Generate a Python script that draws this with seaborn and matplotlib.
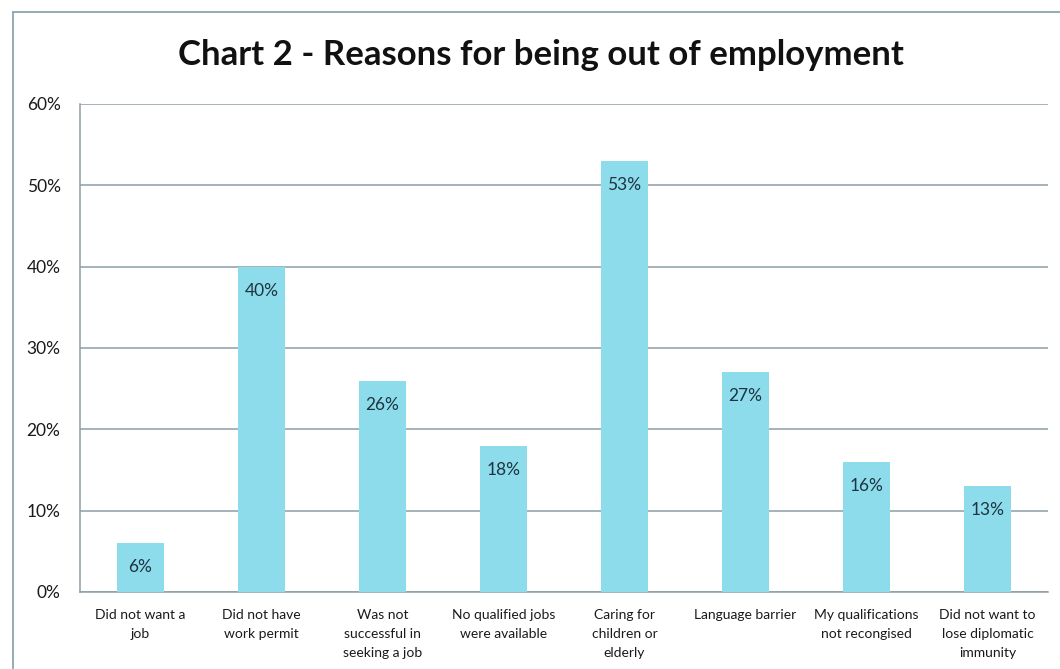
import matplotlib
matplotlib.use("Agg")
import matplotlib.pyplot as plt
import seaborn as sns
import pandas as pd
from matplotlib.lines import Line2D
from matplotlib.ticker import MultipleLocator, FuncFormatter

categories = [
    "Did not want a\njob",
    "Did not have\nwork permit",
    "Was not\nsuccessful in\nseeking a job",
    "No qualified jobs\nwere available",
    "Caring for\nchildren or\nelderly",
    "Language barrier",
    "My qualifications\nnot recongised",
    "Did not want to\nlose diplomatic\nimmunity",
]
values = [6, 40, 26, 18, 53, 27, 16, 13]
title = "Chart 2 - Reasons for being out of employment"

bar_color = "#8ddcec"
grid_color = "#8d9ea6"
text_color = "#1a1a1a"
label_color = "#1e3440"

sns.set_theme(style="white")
plt.rcParams["font.family"] = ["Lato", "DejaVu Sans"]

fig = plt.figure(figsize=(10.6, 6.69), dpi=100)
ax = fig.add_axes([80 / 1060, 1 - 592 / 669, (1048 - 80) / 1060, (592 - 104) / 669])

df = pd.DataFrame({"reason": categories, "share": values})
sns.barplot(data=df, x="reason", y="share", color=bar_color, saturation=1,
            width=0.39, linewidth=0, ax=ax, zorder=3)

ax.set_ylim(0, 60)
ax.set_xlim(-0.5, len(categories) - 0.5)
ax.yaxis.set_major_locator(MultipleLocator(10))
ax.yaxis.set_major_formatter(FuncFormatter(lambda v, _: f"{v:.0f}%"))
ax.grid(axis="y", color=grid_color, linewidth=1.1, zorder=0)
ax.set_axisbelow(True)
ax.set_xlabel("")
ax.set_ylabel("")

for side in ["top", "right"]:
    ax.spines[side].set_visible(False)
for side in ["left", "bottom"]:
    ax.spines[side].set_color(grid_color)
    ax.spines[side].set_linewidth(1.1)

ax.tick_params(axis="y", length=0, pad=14, labelsize=12.5, labelcolor=text_color)
ax.tick_params(axis="x", length=0, pad=12, labelsize=10, labelcolor=text_color)
for lbl in ax.get_xticklabels():
    lbl.set_linespacing(1.7)

for i, v in enumerate(values):
    ax.annotate(f"{v}%", (i, v), xytext=(0, -24), textcoords="offset pixels",
                ha="center", va="center", fontsize=12.5, color=label_color,
                zorder=5)

fig.text(541 / 1060, 1 - 55 / 669, title, ha="center", va="center",
         fontsize=25, fontweight="bold", color="#111111")

# chart-area frame (left and top edges)
fig.add_artist(Line2D([13 / 1060, 13 / 1060], [0, 1 - 12 / 669],
                      transform=fig.transFigure, color="#8aa7ae", linewidth=1.3))
fig.add_artist(Line2D([13 / 1060, 1], [1 - 12 / 669, 1 - 12 / 669],
                      transform=fig.transFigure, color="#8aa7ae", linewidth=1.3))

fig.savefig("out.png", dpi=100)
